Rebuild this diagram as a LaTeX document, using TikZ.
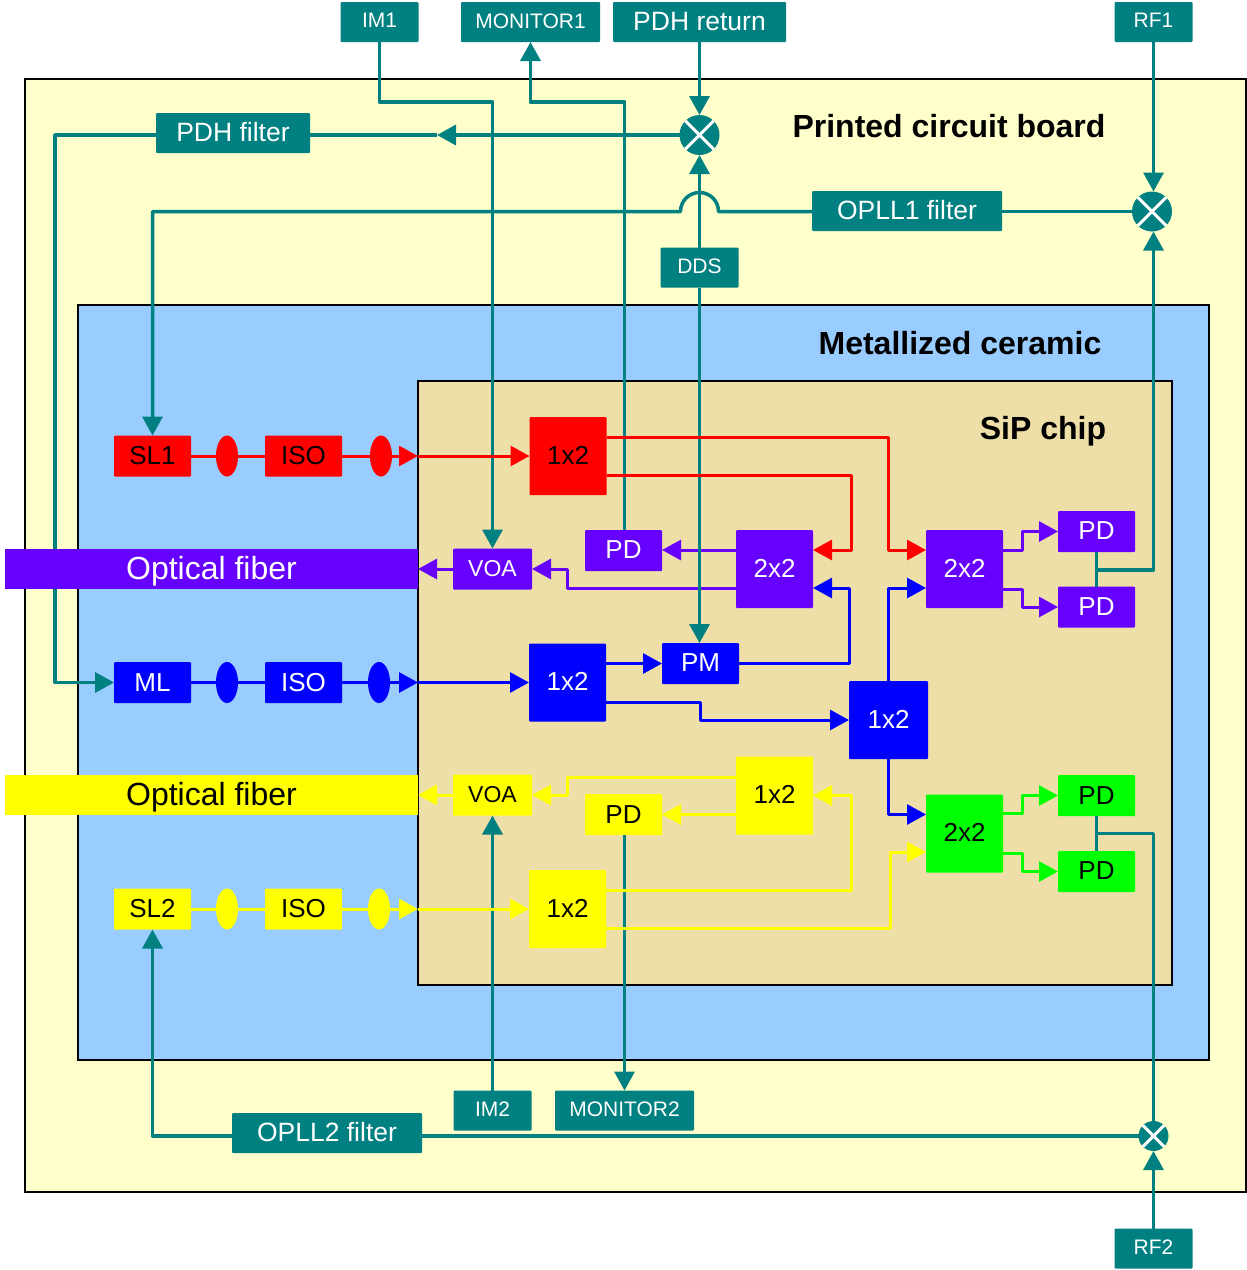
\documentclass[tikz,border=0pt]{standalone}
\usepackage{fontspec}
\usepackage{xcolor}
\setmainfont{Liberation Sans}
\usetikzlibrary{arrows.meta,shapes.geometric}
\definecolor{pcbyellow}{HTML}{FFFFCC}
\definecolor{ceramicblue}{HTML}{99CCFF}
\definecolor{chiptan}{HTML}{EEDFA8}
\definecolor{ctrlteal}{HTML}{008080}
\definecolor{chipviolet}{HTML}{6600FF}
\definecolor{chipgreen}{HTML}{00FF00}
\definecolor{chipyellow}{HTML}{FFFF00}
\definecolor{chipred}{HTML}{FF0000}
\definecolor{chipblue}{HTML}{0000FF}
\tikzset{
  >={Triangle[length=19pt,width=20pt]},
  board/.style={draw=black,line width=1.6pt,inner sep=0,outer sep=0},
  boardtitle/.style={font=\fontsize{32}{34}\selectfont\bfseries,inner sep=0},
  block/.style={rectangle,rounded corners=1pt,inner sep=0,outer sep=0,minimum width=77pt,minimum height=41pt,font=\fontsize{26}{28}\selectfont},
  pdblock/.style={block,text depth=2pt},
  bigblock/.style={block,minimum height=78pt,text depth=2pt},
  voablock/.style={block,minimum width=79pt,font=\fontsize{23}{25}\selectfont},
  ctrl/.style={block,fill=ctrlteal,text=white,minimum height=40pt,font=\fontsize{26.5}{28}\selectfont,text depth=2pt},
  ctrlsmall/.style={ctrl,minimum width=78pt,font=\fontsize{21}{23}\selectfont,text depth=2.5pt},
  fiberblock/.style={rectangle,inner sep=0,outer sep=0,minimum width=413pt,minimum height=40pt,font=\fontsize{32}{34}\selectfont,text depth=3pt},
  lens/.style={ellipse,inner sep=0,outer sep=0,minimum width=22pt,minimum height=41pt},
  mixer/.style={circle,fill=ctrlteal,inner sep=0,outer sep=0,minimum size=40pt},
  mixercross/.style={draw=white,line width=3pt},
  wire/.style={line width=3pt,line join=round},
  tealwire/.style={wire,draw=ctrlteal,line width=3.5pt},
}
\begin{document}
\begin{tikzpicture}[x=1pt,y=-1pt]
\useasboundingbox (0,0) rectangle (1247,1270);
\node[board,fill=pcbyellow,minimum width=1221pt,minimum height=1113pt] (pcb) at (635.5,635.5) {};
\node[board,fill=ceramicblue,minimum width=1131pt,minimum height=755pt] (ceramic) at (643.5,682.5) {};
\node[board,fill=chiptan,minimum width=754pt,minimum height=604pt] (sip) at (795,683) {};
\node[boardtitle] (pcbtitle) at (949,126) {Printed circuit board};
\node[boardtitle] (ceramictitle) at (960,343) {Metallized ceramic};
\node[boardtitle] (siptitle) at (1043,431) {SiP chip};

\node[ctrlsmall] (im1) at (379.5,22) {IM1};
\node[ctrlsmall,minimum width=139pt] (monitor1) at (530.5,22) {MONITOR1};
\node[ctrl,minimum width=173pt] (pdhreturn) at (699.5,22) {PDH return};
\node[ctrlsmall] (rf1) at (1153.5,22) {RF1};
\node[ctrl,minimum width=154pt] (pdhfilter) at (233,133) {PDH filter};
\node[ctrl,minimum width=190pt] (opll1) at (907,211) {OPLL1 filter};
\node[ctrlsmall] (dds) at (699.5,267.5) {DDS};
\node[ctrlsmall] (im2) at (492.5,1110.5) {IM2};
\node[ctrlsmall,minimum width=139pt] (monitor2) at (624.5,1110.5) {MONITOR2};
\node[ctrl,minimum width=190pt] (opll2) at (327,1133) {OPLL2 filter};
\node[ctrlsmall] (rf2) at (1153.5,1248.5) {RF2};

\node[mixer] (mix1) at (699.5,135) {};
\node[mixer] (mix2) at (1152,211.5) {};
\node[mixer,minimum size=30pt] (mix3) at (1153.5,1136) {};
\draw[mixercross] (mix1.north west) -- (mix1.south east);
\draw[mixercross] (mix1.north east) -- (mix1.south west);
\draw[mixercross] (mix2.north west) -- (mix2.south east);
\draw[mixercross] (mix2.north east) -- (mix2.south west);
\draw[mixercross] (mix3.north west) -- (mix3.south east);
\draw[mixercross] (mix3.north east) -- (mix3.south west);

\node[block,fill=chipred] (sl1) at (152.5,456) {SL1};
\node[block,fill=chipred] (isored) at (303.5,456) {ISO};
\node[block,fill=chipblue,text=white] (ml) at (152.5,682.5) {ML};
\node[block,fill=chipblue,text=white] (isoblue) at (303.5,682.5) {ISO};
\node[block,fill=chipyellow] (sl2) at (152.5,909) {SL2};
\node[block,fill=chipyellow] (isoyellow) at (303.5,909) {ISO};
\node[lens,fill=chipred] (lensreda) at (227,456) {};
\node[lens,fill=chipred] (lensredb) at (381,456) {};
\node[lens,fill=chipblue] (lensbluea) at (227,682.5) {};
\node[lens,fill=chipblue] (lensblueb) at (379,682.5) {};
\node[lens,fill=chipyellow] (lensyellowa) at (227,909) {};
\node[lens,fill=chipyellow] (lensyellowb) at (379,909) {};

\node[voablock,fill=chipviolet,text=white] (voaviolet) at (492.5,569) {VOA};
\node[voablock,fill=chipyellow] (voayellow) at (492.5,795) {VOA};

\node[bigblock,fill=chipred] (splitred) at (568,456) {1x2};
\node[pdblock,fill=chipviolet,text=white] (pdviolet) at (623.5,550.5) {PD};
\node[bigblock,fill=chipviolet,text=white] (couplera) at (774.5,569) {2x2};
\node[bigblock,fill=chipviolet,text=white] (couplerb) at (964.5,569) {2x2};
\node[pdblock,fill=chipviolet,text=white] (pdvioleta) at (1096.5,531.5) {PD};
\node[block,fill=chipviolet,text=white] (pdvioletb) at (1096.5,607) {PD};
\node[bigblock,fill=chipblue,text=white] (splitblue) at (567.5,682.5) {1x2};
\node[pdblock,fill=chipblue,text=white] (pm) at (700.5,663.5) {PM};
\node[bigblock,fill=chipblue,text=white,minimum width=79pt] (splitbluer) at (888.5,720) {1x2};
\node[bigblock,fill=chipyellow] (splityellowa) at (774.5,795.5) {1x2};
\node[block,fill=chipyellow] (pdyellow) at (623.5,814.5) {PD};
\node[bigblock,fill=chipyellow] (splityellowb) at (567.5,909) {1x2};
\node[bigblock,fill=chipgreen] (couplerc) at (964.5,833.5) {2x2};
\node[block,fill=chipgreen] (pdgreena) at (1096.5,795.5) {PD};
\node[pdblock,fill=chipgreen] (pdgreenb) at (1096.5,871.5) {PD};

\coordinate (pdjoina) at (1096.5,570);
\coordinate (pdjoinb) at (1096.5,833.5);
\coordinate (pdhtip) at (437,135);

\draw[wire,draw=chipviolet,->] ([yshift=19pt]couplera.west) -- ([yshift=19pt]couplera.west -| pdviolet.east);
\draw[wire,draw=chipviolet,->] ([yshift=-19pt]couplera.west) -- (567,588) -- (567,569) -- (voaviolet.east);

\draw[tealwire,->] (im1.south) -- (379.5,102) -- (492.5,102) -- (voaviolet.north);
\draw[tealwire,->] ([xshift=1pt]pdviolet.north) -- (624.5,102) -- (530.5,102) -- (monitor1.south);
\draw[tealwire,->] (pdhreturn.south) -- (mix1.north);
\draw[tealwire,->] (mix1.west) -- (pdhtip);
\draw[tealwire] (pdhtip) -- (pdhfilter.east |- pdhtip);
\draw[tealwire,->] (pdhfilter.west |- pdhtip) -- (55,135) -- (55,682.5) -- (ml.west);
\draw[tealwire,->] (dds.north) -- (mix1.south);
\draw[tealwire,->] (dds.south) -- (dds.south |- pm.north);
\draw[tealwire,->] (rf1.south) -- (rf1.south |- mix2.north);
\draw[tealwire] (mix2.west) -- (opll1.east |- mix2);
\draw[tealwire,->] (opll1.west |- mix2) -- (718.5,211.5) arc (0:-180:19) -- (152.5,211.5) -- (sl1.north);
\draw[tealwire,->] (pdjoina) -- (1153.5,570) -- (rf1.south |- mix2.south);
\draw[tealwire] (pdvioleta.south) -- (pdvioletb.north);
\draw[tealwire] (pdgreena.south) -- (pdgreenb.north);
\draw[tealwire] (pdjoinb) -- (1153.5,833.5) -- (mix3.north);
\draw[tealwire,->] (rf2.north) -- (mix3.south);
\draw[tealwire] (mix3.west) -- (opll2.east |- mix3);
\draw[tealwire,->] (opll2.west |- mix3) -- (152.5,1136) -- (sl2.south);
\draw[tealwire,->] (im2.north) -- (voayellow.south);
\draw[tealwire,->] ([xshift=1pt]pdyellow.south) -- (monitor2.north);

\node[fiberblock,fill=chipviolet,text=white] (fiberviolet) at (211.5,569) {Optical fiber};
\node[fiberblock,fill=chipyellow] (fiberyellow) at (211.5,795) {Optical fiber};
\draw[wire,draw=chipviolet,->] (voaviolet.west) -- (fiberviolet.east);
\draw[wire,draw=chipyellow,->] (voayellow.west) -- (fiberyellow.east);

\coordinate (sipred) at (sip.west |- sl1);
\draw[wire,draw=chipred] (sl1) -- (lensreda) -- (isored) -- (lensredb);
\draw[wire,draw=chipred,->] (lensredb) -- (sipred);
\draw[wire,draw=chipred,->] (sipred) -- (splitred.west);
\draw[wire,draw=chipred,->] ([yshift=19pt]splitred.east) -- (888,437) -- (888,550) -- ([yshift=19pt]couplerb.west);
\draw[wire,draw=chipred,->] ([yshift=-19pt]splitred.east) -- (851,475) -- (851,550) -- ([yshift=19pt]couplera.east);

\coordinate (sipblue) at (sip.west |- ml);
\draw[wire,draw=chipblue] (ml) -- (lensbluea) -- (isoblue) -- (lensblueb);
\draw[wire,draw=chipblue,->] (lensblueb) -- (sipblue);
\draw[wire,draw=chipblue,->] (sipblue) -- (splitblue.west);
\draw[wire,draw=chipblue,->] (splitblue.east |- pm) -- (pm.west);
\draw[wire,draw=chipblue,->] ([yshift=-20pt]splitblue.east) -- (700,702.5) -- (700,720) -- (splitbluer.west);
\draw[wire,draw=chipblue,->] (pm.east) -- (849,663.5) -- (849,588) -- ([yshift=-19pt]couplera.east);
\draw[wire,draw=chipblue,->] (splitbluer.north) -- (888.5,588) -- ([yshift=-19pt]couplerb.west);
\draw[wire,draw=chipblue,->] (splitbluer.south) -- (888.5,814.5) -- ([yshift=19pt]couplerc.west);

\coordinate (sipyellow) at (sip.west |- sl2);
\draw[wire,draw=chipyellow] (sl2) -- (lensyellowa) -- (isoyellow) -- (lensyellowb);
\draw[wire,draw=chipyellow,->] (lensyellowb) -- (sipyellow);
\draw[wire,draw=chipyellow,->] (sipyellow) -- (splityellowb.west);
\draw[wire,draw=chipyellow,->] ([yshift=19pt]splityellowb.east) -- (851,890) -- (851,795.5) -- (splityellowa.east);
\draw[wire,draw=chipyellow,->] ([yshift=-19pt]splityellowb.east) -- (890,928) -- (890,852) -- ([yshift=-18.5pt]couplerc.west);
\draw[wire,draw=chipyellow,->] ([yshift=18.5pt]splityellowa.west) -- (567,777) -- (567,795) -- (voayellow.east);
\draw[wire,draw=chipyellow,->] (splityellowa.west |- pdyellow) -- (pdyellow.east);

\draw[wire,draw=chipviolet,->] ([yshift=19pt]couplerb.east) -- (1022,550) -- (1022,531.5) -- (pdvioleta.west);
\draw[wire,draw=chipviolet,->] ([yshift=-20pt]couplerb.east) -- (1022,589) -- (1022,607) -- (pdvioletb.west);
\draw[wire,draw=chipgreen,->] ([yshift=20pt]couplerc.east) -- (1022,813.5) -- (1022,795.5) -- (pdgreena.west);
\draw[wire,draw=chipgreen,->] ([yshift=-20pt]couplerc.east) -- (1022,853.5) -- (1022,871.5) -- (pdgreenb.west);
\end{tikzpicture}
\end{document}
